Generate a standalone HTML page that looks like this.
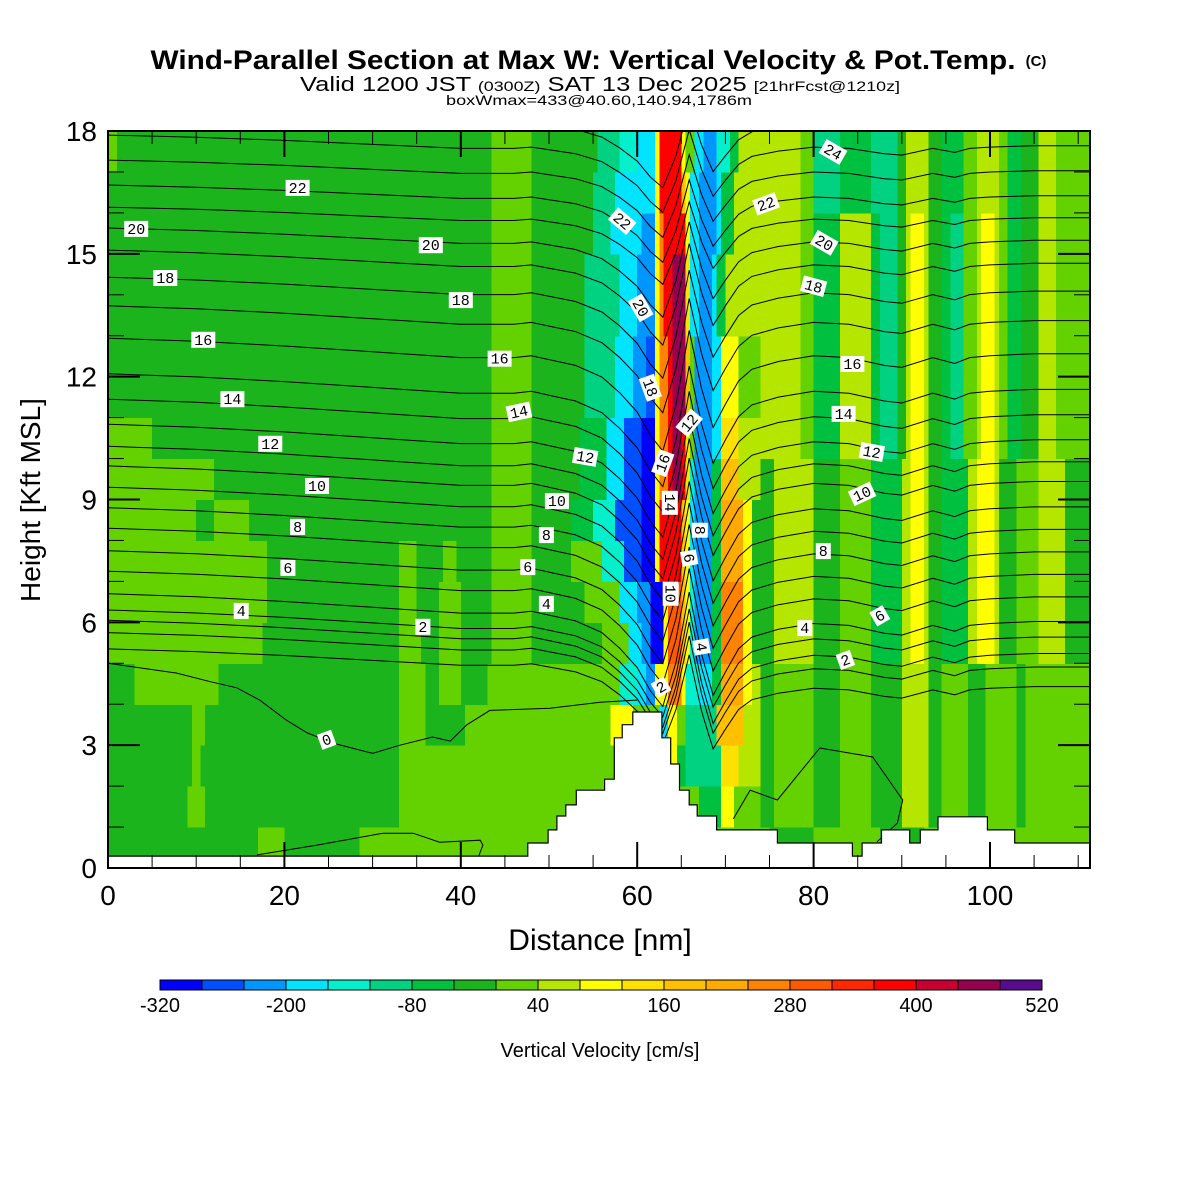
<!DOCTYPE html>
<html><head><meta charset="utf-8"><title>Wind-Parallel Section</title>
<style>html,body{margin:0;padding:0;background:#fff;}svg{display:block;}</style></head>
<body>
<svg id="chart" xmlns="http://www.w3.org/2000/svg" width="1200" height="1200" viewBox="0 0 1200 1200" font-family="'Liberation Sans', sans-serif">
<rect x="0" y="0" width="1200" height="1200" fill="#fff"/>
<text x="583" y="69" font-size="27" font-weight="bold" text-anchor="middle" textLength="865" lengthAdjust="spacingAndGlyphs">Wind-Parallel Section at Max W: Vertical Velocity &amp; Pot.Temp.</text>
<text x="1036" y="66" font-size="15" font-weight="bold" text-anchor="middle">(C)</text>
<text x="600" y="91" font-size="20" text-anchor="middle" textLength="600" lengthAdjust="spacingAndGlyphs">Valid 1200 JST <tspan font-size="14">(0300Z)</tspan> SAT 13 Dec 2025 <tspan font-size="14">[21hrFcst@1210z]</tspan></text>
<text x="599" y="105" font-size="14" text-anchor="middle" textLength="306" lengthAdjust="spacingAndGlyphs">boxWmax=433@40.60,140.94,1786m</text>
<defs><clipPath id="plotclip"><rect x="108" y="131" width="982" height="737"/></clipPath></defs>
<g id="cells" clip-path="url(#plotclip)" shape-rendering="crispEdges"></g>
<g id="contours" clip-path="url(#plotclip)" fill="none" stroke="#000" stroke-width="1"></g>
<g id="terrain" clip-path="url(#plotclip)"></g>
<g id="clabels" clip-path="url(#plotclip)" font-family="'Liberation Mono', monospace" font-size="15"></g>
<g id="axes"></g>
<text x="600" y="950" font-size="30" text-anchor="middle">Distance [nm]</text>
<text x="0" y="0" font-size="28" text-anchor="middle" transform="translate(40,500) rotate(-90)">Height [Kft MSL]</text>
<g id="colorbar"></g>
<text x="600" y="1057" font-size="20" text-anchor="middle">Vertical Velocity [cm/s]</text>
</svg>
<script>
// ---- colour scale (vertical velocity, cm/s) ----
const levelStart = -320;
const levelStep = 40;
const levelColors = ["#0000ff","#0050ff","#0096ff","#00e4ff","#04f0cc","#00d282","#00c040","#1cb41c","#64d200","#b4e600","#ffff00","#ffe100","#ffc000","#ffaa00","#ff8200","#ff5a00","#ff2800","#ff0000","#c80032","#960050","#5a0a8c"];
const colorbarTicks = [-320,-200,-80,40,160,280,400,520];
// ---- field: one string per 1 kft row (bottom first), runs of level letter + end column (0.5 nm units) ----
const R_top = " j157 i160 f166 g173 f179 h181 j186 h189 g194 i197 j202 i204 g207 h211 j215 i224";
const R_up = " j157 i160 g166 j173 g175 f179 h181 j182 k185 j186 h189 g191 f194 i197 j198 k201 j202 i204 g207 h211 j215 i224";
const R_mid = " h151 j160 h166 i173 g180 j182 k185 j186 h189 g195 j197 k201 j202 h206 i211 j217 h224";
const R_low = " h151 i160 h166 i173 h180 j186 h189 i195 h199 i206 h208 i224";
const fieldRows = [
"h34 i40 h57 i150 h160 i175 h185 i224",
"h18 i22 h66 i134 g139 k142 i148" + R_low,
"h19 i21 h66 i127 k129 g131 f139 l143 j148" + R_low,
"h19 i22 h66 i72 h81 i114 k119 i125 d127 k129 i131 f138 m144 j148" + R_low,
"h6 i25 h66 i72 h75 i80 h86 i116 e120 d122 c124 k127 o130 k131 e134 d137 g139 n144 k146 j148" + R_low,
"i35 h66 i71 h75 i80 h87 i96 h112 i118 d121 c123 a126 k127 p130 m131 k132 e133 c137 g139 o144 k146" + R_mid,
"i36 h66 i70 h75 i80 h87 i96 h108 i116 d120 c123 a126 k127 p130 m131 k132 e133 c137 g139 o144 k146" + R_mid,
"i36 h66 i70 h76 i79 h87 i96 h105 i112 e117 b121 a124 k125 r130 m131 k132 d133 c137 g139 n144 k146" + R_mid,
"i20 h24 i32 h87 i96 h105 g110 e115 b121 a124 k125 r130 m131 k132 d133 c137 g139 n144 k146" + R_mid,
"i24 h87 i96 h107 g113 d117 b121 a124 k125 o127 r128 t130 r131 l132 e133 c137 g139 m143 j148" + R_mid,
"i10 h87 i96 h107 g113 d117 b121 a124 k125 o127 r128 t130 r131 l132 i133 c137 d139 l143 j148" + R_up,
"h87 i96 h108 f115 d119 c122 b124 k125 o127 r128 t131 m132 i133 c137 d139 k143 i148" + R_up,
"h87 i96 h108 f115 d119 c122 b124 k125 o127 r128 t131 m132 i133 c137 d139 k143 i148" + R_up,
"h87 i96 h108 f116 d120 c124 k125 o126 r128 t131 l132 d134 c137 d138 g140 j148" + R_up,
"h87 i96 h108 f116 d120 c124 k125 o126 r128 t131 l132 d134 c137 d138 g140 j148" + R_up,
"h87 i96 h110 f114 d121 c124 k125 o126 r131 k132 d134 c138 d139 g142 j152" + R_up,
"h87 i96 h110 f115 d124 k125 r130 m131 k132 d134 c138 d139 g142 j152" + R_top,
"i2 h87 i96 h111 f116 e120 d124 k125 r130 k131 i133 d135 c138 e141 g143 j148" + R_top
];
// ---- terrain steps: right edge (nm) and height (kft) ----
const terrainEdgeX = [47.6,49.9,50.9,51.9,53.1,56.3,57.4,58.3,59.5,62.8,63.8,64.8,65.9,66.8,69.0,75.9,84.4,85.5,87.7,90.9,92.1,94.1,99.7,102.8,111.5];
const terrainTopK = [0.29,0.61,0.93,1.27,1.54,1.90,2.17,3.18,3.50,3.81,3.18,2.54,1.90,1.54,1.27,0.93,0.61,0.29,0.61,0.93,0.61,0.93,1.25,0.93,0.61];
// ---- potential temperature contours ----
const contourLevels = [1,2,3,4,5,6,7,8,9,10,11,12,13,14,15,16,17,18,19,20,21,22,23,24,25];
const contourBaseK = [5.35,5.75,6.05,6.3,6.7,7.25,7.75,8.3,8.8,9.3,9.82,10.3,10.84,11.45,12.07,12.94,13.73,14.43,15.09,15.63,16.14,16.68,17.29,17.9,18.5];
const contourAmp = [0.8,0.85,0.9,0.9,0.95,0.95,0.95,0.95,0.95,0.95,0.95,0.95,0.95,0.95,0.95,0.95,0.9,0.85,0.8,0.75,0.65,0.65,0.65,0.65,0.65];
const contourDrop = [-0.6,-0.5,-0.45,-0.3,-0.3,-0.25,-0.2,-0.2,-0.15,-0.1,0,0,0,0,0,0,0,0,0,0,0,0,0,0,0];
const waveX = [0,10,20,30,40,46,48,50,53,56,58,60,61.5,62.9,64.4,65.9,67.3,68.6,70,71.5,73,76,80,84,88,90,93.5,96,97.7,100,105,111.5];
const waveD = [0,-0.08,-0.2,-0.35,-0.5,-0.5,-0.45,-0.55,-0.7,-1.0,-1.4,-1.9,-2.5,-2.9,-1.7,0.2,-1.3,-2.3,-1.7,-1.1,-0.8,-0.6,-0.45,-0.5,-0.7,-0.75,-0.5,-0.65,-0.5,-0.45,-0.4,-0.4];
const waveR = [0,0,0,0,0,0,0,0,0,0,0,0,0,0,0.2,0.5,0.8,1,1,1,1,1,1,1,1,1,1,1,1,1,1,1];
const zeroLineX = [0,7.8,11.6,14.6,17.2,20.3,22.6,25.5,30.0,33.1,36.8,38.8,40.7,43.3,50.1,55.8,60];
const zeroLineK = [5.0,4.76,4.55,4.4,4.1,3.6,3.3,3.05,2.8,3.0,3.2,3.1,3.5,3.85,3.9,4.05,4.1];
const lowLineX = [16.9,23.7,31.2,34.6,37.6,42.2,42.5,42.0];
const lowLineK = [0.32,0.56,0.85,0.85,0.63,0.68,0.56,0.27];
const loopLineX = [70.9,72.8,75.9,80.7,86.7,90.1,89.5,87.2];
const loopLineK = [1.2,1.9,1.66,2.93,2.71,1.66,1.1,0.64];
// ---- contour labels ----
const labelText = ["22","20","20","18","18","16","16","14","14","12","12","10","10","8","8","6","6","4","4","2","0","22","20","18","16","14","12","10","8","6","4","2","24","22","20","18","16","14","12","10","8","6","4","2"];
const labelX = [21.5,3.2,36.6,6.5,40.0,10.8,44.4,14.1,46.6,18.4,54.1,23.7,50.9,21.5,49.7,20.4,47.6,15.1,49.7,35.7,24.8,58.3,60.4,61.5,62.9,63.7,65.9,63.8,67.1,65.9,67.3,62.7,82.2,74.6,81.2,80.0,84.4,83.4,86.6,85.5,81.1,87.5,79.0,83.6];
const labelK = [16.61,15.61,15.21,14.41,13.87,12.90,12.44,11.45,11.14,10.36,10.04,9.33,8.96,8.33,8.13,7.33,7.35,6.28,6.45,5.89,3.13,15.80,13.68,11.73,9.89,8.92,10.87,6.70,8.25,7.57,5.40,4.42,17.49,16.22,15.27,14.21,12.31,11.09,10.16,9.14,7.74,6.16,5.86,5.08];
const labelRot = [0,0,0,0,0,0,0,0,-12,0,10,0,0,0,0,0,0,0,0,0,-20,40,60,70,-70,90,-50,90,90,80,80,-30,30,-20,30,15,0,0,10,-25,0,-30,0,-20];
// ---- axes ----
const xTickLabels = [0,20,40,60,80,100];
const yTickLabels = [0,3,6,9,12,15,18];

const NS = "http://www.w3.org/2000/svg";
const X0 = 108, X1 = 1090, Y0 = 868, Y1 = 131;
const xScale = nm => X0 + nm * 8.82;
const yScale = k => Y0 - k * (Y0 - Y1) / 18;
function mk(tag, attrs, parent) {
  const e = document.createElementNS(NS, tag);
  for (const k in attrs) e.setAttribute(k, attrs[k]);
  parent.appendChild(e);
  return e;
}
function colorFor(letter) { return levelColors[letter.charCodeAt(0) - 97]; }

// field cells
const gCells = document.getElementById('cells');
fieldRows.forEach((row, r) => {
  let start = 0;
  row.trim().split(/\s+/).forEach(tok => {
    const end = parseInt(tok.slice(1), 10);
    if (end > start) {
      const xa = xScale(start / 2), xb = xScale(end / 2);
      const ya = yScale(r + 1), yb = yScale(r);
      const c = mk('rect', {x: xa.toFixed(1), y: ya.toFixed(1), width: (xb - xa + 0.6).toFixed(1), height: (yb - ya + 0.6).toFixed(1), fill: colorFor(tok[0])}, gCells);
      
      
      start = end;
    }
  });
});

// contours
const gC = document.getElementById('contours');
function drawLine(xs, ks, name) {
  const pts = xs.map((x, i) => xScale(x).toFixed(1) + ',' + yScale(ks[i]).toFixed(1)).join(' ');
  const p = mk('polyline', {points: pts}, gC);
  
  
}
contourLevels.forEach((lv, i) => {
  const ks = waveX.map((x, j) => contourBaseK[i] + contourAmp[i] * waveD[j] + contourDrop[i] * waveR[j]);
  drawLine(waveX, ks, 'theta-contour-' + lv);
});
drawLine(zeroLineX, zeroLineK, 'theta-contour-0');
drawLine(lowLineX, lowLineK, 'theta-contour-low');
drawLine(loopLineX, loopLineK, 'theta-contour-loop');

// terrain
const gT = document.getElementById('terrain');
let tp = [[xScale(-1), yScale(0)], [xScale(-1), yScale(terrainTopK[0])]];
let prevX = -1;
terrainEdgeX.forEach((ex, i) => {
  tp.push([xScale(prevX), yScale(terrainTopK[i])]);
  tp.push([xScale(ex), yScale(terrainTopK[i])]);
  prevX = ex;
});
tp.push([xScale(prevX), yScale(-1)]);
tp.push([xScale(-1), yScale(-1)]);
const terr = mk('polygon', {points: tp.map(p => p[0].toFixed(1) + ',' + p[1].toFixed(1)).join(' '), fill: '#fff', stroke: '#000', 'stroke-width': 1.2}, gT);



// contour labels
const gL = document.getElementById('clabels');
labelText.forEach((t, i) => {
  const cx = xScale(labelX[i]), cy = yScale(labelK[i]);
  const g = mk('g', {transform: `translate(${cx.toFixed(1)},${cy.toFixed(1)}) rotate(${labelRot[i]})`}, gL);
  
  
  const w = t.length * 9 + 6;
  mk('rect', {x: -w / 2, y: -8, width: w, height: 16, fill: '#fff'}, g);
  const tx = mk('text', {x: 0, y: 5, 'text-anchor': 'middle'}, g);
  tx.textContent = t;
});

// axes
const gA = document.getElementById('axes');
const frame = mk('rect', {x: X0, y: Y1, width: X1 - X0, height: Y0 - Y1, fill: 'none', stroke: '#000', 'stroke-width': 2}, gA);


for (let nm = 5; nm < 111; nm += 5) {
  const major = nm % 20 === 0;
  const len = major ? 26 : 13, x = xScale(nm);
  mk('line', {x1: x, x2: x, y1: Y0, y2: Y0 - len, stroke: '#000', 'stroke-width': major ? 2 : 1}, gA);
  mk('line', {x1: x, x2: x, y1: Y1, y2: Y1 + len, stroke: '#000', 'stroke-width': major ? 2 : 1}, gA);
}
for (let k = 1; k < 18; k++) {
  const major = k % 3 === 0;
  const len = major ? 32 : 16, y = yScale(k);
  mk('line', {x1: X0, x2: X0 + len, y1: y, y2: y, stroke: '#000', 'stroke-width': major ? 2 : 1}, gA);
  mk('line', {x1: X1, x2: X1 - len, y1: y, y2: y, stroke: '#000', 'stroke-width': major ? 2 : 1}, gA);
}
xTickLabels.forEach(v => {
  const t = mk('text', {x: xScale(v), y: 905, 'font-size': 28, 'text-anchor': 'middle'}, gA);
  
  
  t.textContent = v;
});
yTickLabels.forEach(v => {
  const t = mk('text', {x: 97, y: yScale(v) + 10, 'font-size': 28, 'text-anchor': 'end'}, gA);
  
  
  t.textContent = v;
});

// colorbar
const gB = document.getElementById('colorbar');
const cbX = 160, cbW = 42;
levelColors.forEach((c, i) => {
  const r = mk('rect', {x: cbX + i * cbW, y: 980, width: cbW, height: 10, fill: c, stroke: '#000', 'stroke-width': 1}, gB);
  
  
});
colorbarTicks.forEach(v => {
  const t = mk('text', {x: cbX + (v - levelStart) / levelStep * cbW, y: 1012, 'font-size': 20, 'text-anchor': 'middle'}, gB);
  
  
  t.textContent = v;
});
</script>
</body></html>
